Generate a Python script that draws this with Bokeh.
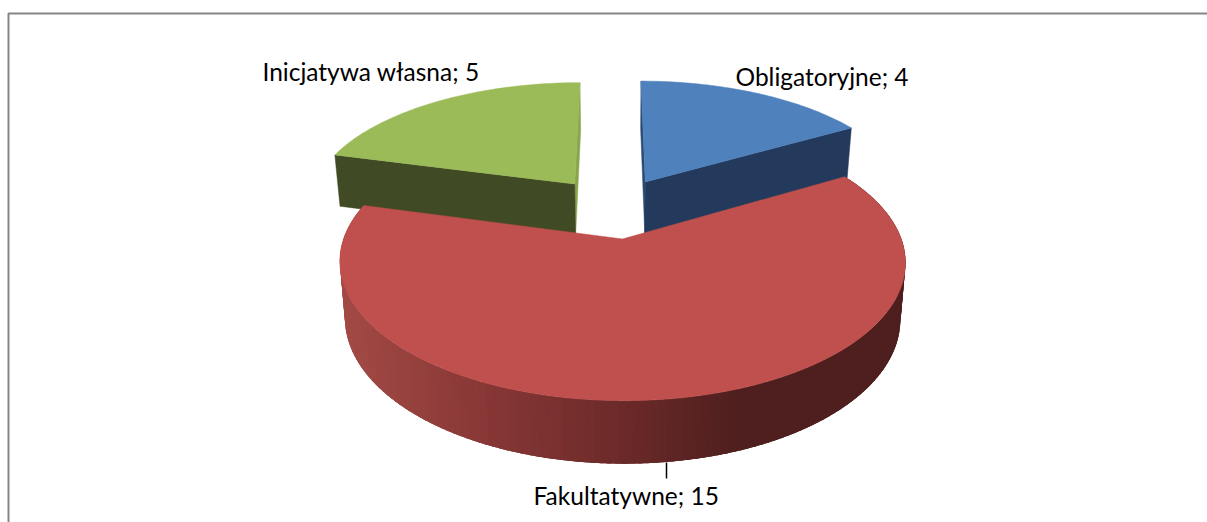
from bokeh.plotting import figure
from bokeh.embed import file_html
from bokeh.resources import INLINE
from bokeh.core.properties import value
import math

categories = ["Obligatoryjne", "Fakultatywne", "Inicjatywa własna"]
values = [4, 15, 5]
top_colors = ["#4F81BD", "#BF504D", "#9BBB59"]
cut_colors = ["#243A5C", None, "#404A24"]
sliver_colors = ["#2B4A75", None, "#88A64C"]

CX, CY, W, A, P, EXPL = 613.0, 207.0, 268.0, 124.5, 0.16, 0.245
H, PH, XS, XC = 54.0, 0.115, 0.982, 620.0


def top(x, y):
    d = 1 + P * y
    return CX + W * x / d, CY - A * y / d


def bottom(x, y):
    sx, sy = top(x, y)
    return XC + (sx - XC) * XS, sy + H / (1 + PH * y)


p = figure(width=1207, height=522, x_range=(0, 1207), y_range=(522, 0),
           output_backend="svg", toolbar_location=None, min_border=0,
           outline_line_color=None, background_fill_color="white")
p.axis.visible = False
p.grid.visible = False

# chart frame
p.line([1207, 8, 8], [13, 13, 522], line_color="#868686", line_width=2)

total = sum(values)
spans = []
start = 0.0
for v in values:
    spans.append((start, start + v / total * 2 * math.pi))
    start += v / total * 2 * math.pi


def offset(a0, a1):
    m = (a0 + a1) / 2
    return EXPL * math.sin(m), EXPL * math.cos(m)


# back slices: cut faces first
for i in (2, 0):
    a0, a1 = spans[i]
    ox, oy = offset(a0, a1)
    cut = a0 if i == 2 else a1
    sl = a1 if i == 2 else a0
    for ang, col in ((sl, sliver_colors[i]), (cut, cut_colors[i])):
        rim = (ox + math.sin(ang), oy + math.cos(ang))
        apex = (ox, oy)
        t1, t2, b2, b1 = top(*rim), top(*apex), bottom(*apex), bottom(*rim)
        p.patch([t1[0], t2[0], b2[0], b1[0]], [t1[1], t2[1], b2[1], b1[1]],
                fill_color=col, line_color=col, line_width=0.5)
    n = 80
    xs, ys = [], []
    for k in range(n + 1):
        a = a0 + (a1 - a0) * k / n
        q = top(ox + math.sin(a), oy + math.cos(a))
        xs.append(q[0]); ys.append(q[1])
    q = top(ox, oy)
    xs.append(q[0]); ys.append(q[1])
    p.patch(xs, ys, fill_color=top_colors[i], line_color=top_colors[i], line_width=0.5)

# red slice wall with gradient
a0, a1 = spans[1]
ox, oy = offset(a0, a1)
stops = [(339, (163, 74, 70)), (480, (136, 56, 54)), (620, (108, 42, 41)),
         (740, (78, 31, 30)), (906, (78, 31, 30))]


def wall_color(x):
    for (x0, c0), (x1, c1) in zip(stops, stops[1:]):
        if x <= x1:
            t = max(0.0, (x - x0) / (x1 - x0))
            return "#%02x%02x%02x" % tuple(round(u + (v - u) * t) for u, v in zip(c0, c1))
    return "#%02x%02x%02x" % stops[-1][1]


n = 160
da = (a1 - a0) / n
for k in range(n):
    b0 = a0 + da * k
    steps = 6
    b1 = min(a1, b0 + da * 2.5)
    tt, bb = [], []
    for j in range(steps + 1):
        b = b0 + (b1 - b0) * j / steps
        r = (ox + math.sin(b), oy + math.cos(b))
        tt.append(top(*r)); bb.append(bottom(*r))
    c = wall_color(top(ox + math.sin(b0 + da / 2), oy + math.cos(b0 + da / 2))[0])
    pts = tt + bb[::-1]
    p.patch([q[0] for q in pts], [q[1] for q in pts], fill_color=c, line_color=None)

n = 200
xs, ys = [], []
for k in range(n + 1):
    a = a0 + (a1 - a0) * k / n
    q = top(ox + math.sin(a), oy + math.cos(a))
    xs.append(q[0]); ys.append(q[1])
q = top(ox, oy)
xs.append(q[0]); ys.append(q[1])
p.patch(xs, ys, fill_color=top_colors[1], line_color=top_colors[1], line_width=0.5)

# leader line
p.line([666, 666], [462, 478], line_color="black", line_width=1.5)

labels = [f"{c}; {v}" for c, v in zip(categories, values)]
lx = [735, 533, 262]
ly = [76, 495, 71]
p.text(lx, ly, text=labels, text_font=value("Lato"), text_font_size="24.5px",
       text_color="black", text_baseline="alphabetic", text_align="left")

open("out.html", "w").write(file_html(p, INLINE))
